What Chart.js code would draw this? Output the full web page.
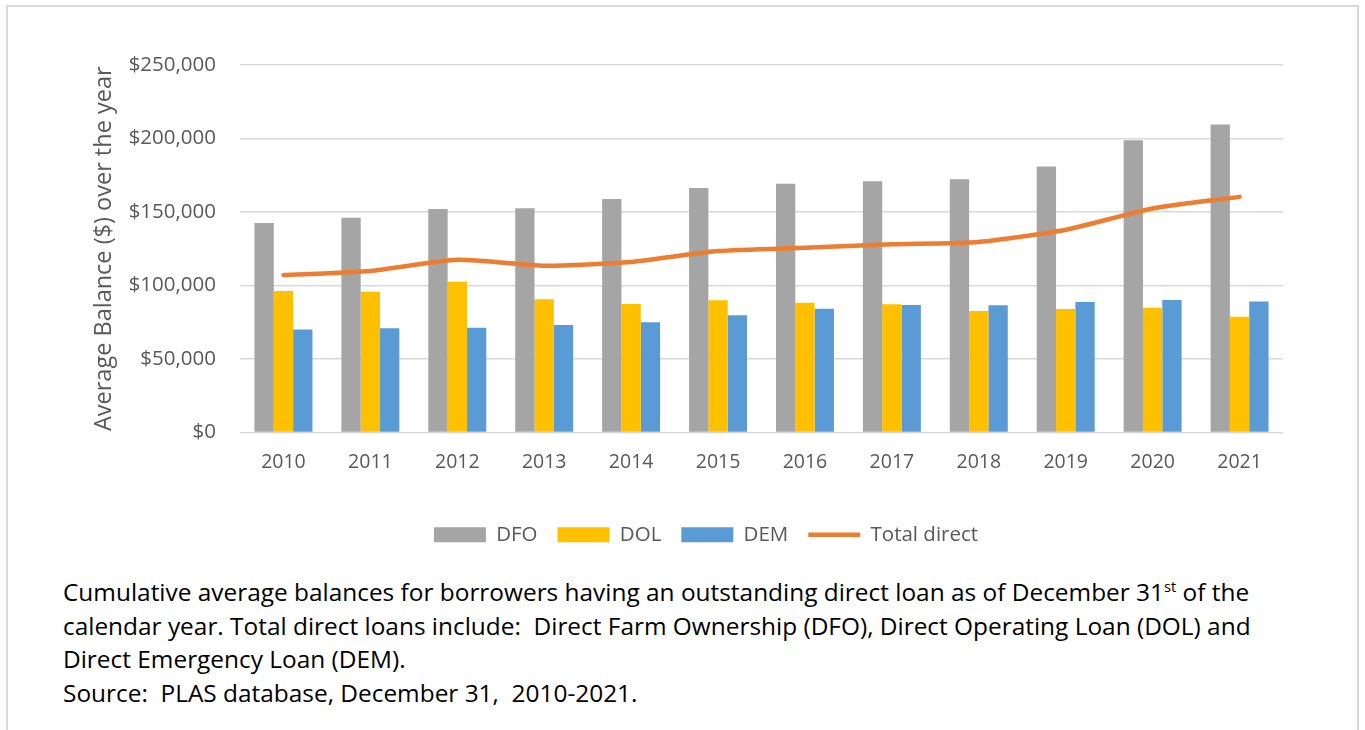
<!DOCTYPE html>
<html>
<head>
<meta charset="utf-8">
<script src="https://cdn.jsdelivr.net/npm/chart.js@4"></script>
<style>
  body { margin:0; background:#fff; overflow:hidden; }
  #wrap { position:relative; width:1365px; height:730px; }
  #frame { position:absolute; left:6px; top:5px; width:1353px; height:740px; border:2px solid #d9d9d9; box-sizing:border-box; }
  #chartBox { position:absolute; left:0; top:0; width:1365px; height:560px; }
  #caption { position:absolute; left:63px; top:575px; font-family:"Open Sans", sans-serif; font-size:21px; line-height:33.5px; color:#000; white-space:nowrap; }
  #caption sup { font-size:0.6em; line-height:0; }
</style>
</head>
<body>
<div id="wrap">
  <div id="frame"></div>
  <div id="chartBox"><canvas id="grafik" width="1365" height="560"></canvas></div>
  <div id="caption">
    <span id="line1">Cumulative average balances for borrowers having an outstanding direct loan as of December 31<sup>st</sup> of the</span><br>
    calendar year. Total direct loans include:&nbsp; Direct Farm Ownership (DFO), Direct Operating Loan (DOL) and<br>
    Direct Emergency Loan (DEM).<br>
    Source:&nbsp; PLAS database, December 31,&nbsp; 2010-2021.
  </div>
</div>
<script>
const years = ["2010","2011","2012","2013","2014","2015","2016","2017","2018","2019","2020","2021"];
const dfo = [142500,146100,152000,152600,158800,166400,169200,171000,172300,181000,198800,209600];
const dol = [96300,95800,102600,90600,87400,89900,88300,87200,82700,84000,84900,78800];
const dem = [70000,70900,71300,73200,75000,79700,84200,86700,86500,88800,90100,89200];
const totalDirect = [107100,109900,117500,113500,116000,123400,125700,128000,129600,137900,152400,160300];
const yTicks = [0,50000,100000,150000,200000,250000];

const font = "'Open Sans', sans-serif";
const grey = "#595959";

function dollar(v) {
  return "$" + new Intl.NumberFormat("en-US").format(v);
}

// caption: stretch font so first line spans the same width as the original
const cap = document.getElementById("caption");
const line1 = document.getElementById("line1");
cap.style.fontSize = (21 * 1187 / line1.offsetWidth).toFixed(2) + "px";

const ctx = document.getElementById("grafik").getContext("2d");
new Chart(ctx, {
  type: "bar",
  data: {
    labels: years,
    datasets: [
      { label:"DFO", data:dfo, backgroundColor:"#a5a5a5", borderWidth:0, pointStyle:"rect", order:1 },
      { label:"DOL", data:dol, backgroundColor:"#ffc000", borderWidth:0, pointStyle:"rect", order:1 },
      { label:"DEM", data:dem, backgroundColor:"#5b9bd5", borderWidth:0, pointStyle:"rect", order:1 },
      { type:"line", label:"Total direct", data:totalDirect, borderColor:"#ed7d31", backgroundColor:"#ed7d31",
        borderWidth:4.5, pointRadius:0, pointStyle:"line", tension:0.2, borderCapStyle:"round", order:0 }
    ]
  },
  options: {
    responsive: false,
    animation: false,
    layout: { padding: { left: 90, right: 43, top: 65, bottom: 5 } },
    datasets: { bar: { categoryPercentage: 0.667, barPercentage: 1 } },
    plugins: {
      tooltip: { enabled: false },
      legend: {
        position: "bottom",
        labels: {
          usePointStyle: true, pointStyleWidth: 52, boxHeight: 15,
          color: grey, padding: 20, font: { family: font, size: 20.5 },
          sort: (a, b) => a.datasetIndex - b.datasetIndex
        }
      }
    },
    scales: {
      x: {
        grid: { display: false },
        border: { display: false },
        ticks: { color: grey, font: { family: font, size: 19.5 }, padding: 10 },
        afterFit: s => { s.height = 72; }
      },
      y: {
        min: 0, max: 250000,
        afterBuildTicks: s => { s.ticks = yTicks.map(v => ({ value: v })); },
        grid: { color: "#d9d9d9", lineWidth: 1.5, drawTicks: false },
        border: { display: false },
        ticks: { color: grey, font: { family: font, size: 20.5 }, padding: 24, callback: v => dollar(v) },
        title: { display: true, text: "Average Balance ($) over the year", color: grey, font: { family: font, size: 23.5 }, padding: 0 },
        afterFit: s => { s.width = 150; }
      },
      // empty right-hand margin so the legend sits where it does in the original
      yRight: {
        position: "right",
        grid: { display: false },
        border: { display: false },
        ticks: { display: false },
        afterFit: s => { s.width = 39; }
      }
    }
  }
});
</script>
</body>
</html>
